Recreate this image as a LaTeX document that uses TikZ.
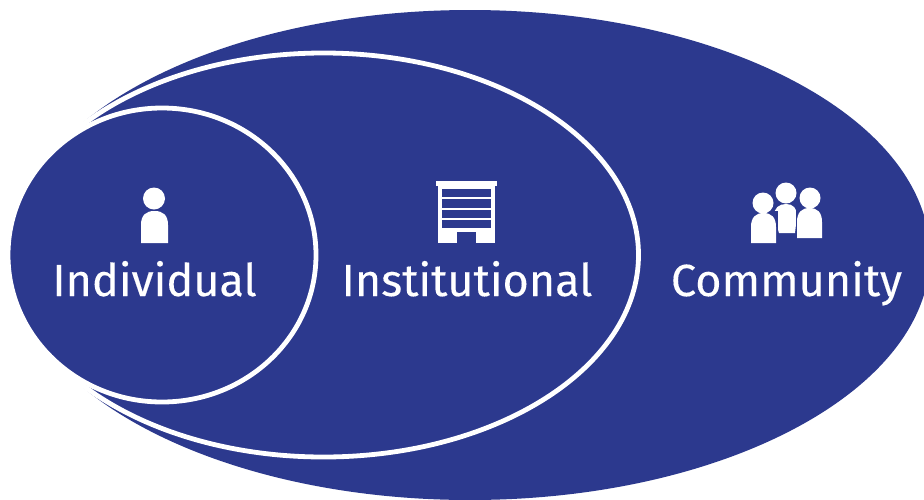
\documentclass[tikz,border=0pt]{standalone}
\usepackage{fontspec}
\setmainfont[FakeBold=0.2]{Fira Sans}
\definecolor{navy}{RGB}{44,57,142}
\tikzset{
  zone/.style={fill=navy,draw=white,line width=4.8pt},
  lab/.style={text=white,font=\fontsize{45}{45}\selectfont,inner sep=0pt,anchor=base},
  ico/.style={fill=white,draw=none},
  gap/.style={fill=navy,draw=none}
}
\newcommand{\bodyshape}[4]{% left, right, top, bottom
  \fill[ico] (#1,#4) -- (#1,{#3+14}) .. controls (#1,{#3+4}) and ({#1+5},#3) .. ({(#1+#2)/2},#3) .. controls ({#2-5},#3) and (#2,{#3+4}) .. (#2,{#3+14}) -- (#2,#4) -- cycle;}
\begin{document}
\begin{tikzpicture}[x=1pt,y=-1pt]
\useasboundingbox (0,0) rectangle (924,499);
\clip (0,0) rectangle (924,499);
\fill[white] (0,0) rectangle (924,499);
% nested ellipses
\fill[navy] (470,255) ellipse [x radius=460,y radius=245];
\draw[zone] (323.5,255) ellipse [x radius=315,y radius=202];
\draw[zone] (162,255) ellipse [x radius=154,y radius=147];
% labels
\node[lab] (individual) at (154.5,296) {Individual};
\node[lab] (institutional) at (467,296) {Institutional};
\node[lab] (community) at (786.5,296) {Community};
% person icon
\fill[ico] (154,198.5) circle [radius=11];
\bodyshape{141}{168}{211}{243}
% building icon
\fill[ico] (436,181) rectangle (497,186);
\fill[ico] (438,186) rectangle (495,243);
\fill[gap] (442,189) rectangle (491,197.3);
\fill[gap] (442,199.4) rectangle (491,207.7);
\fill[gap] (442,209.7) rectangle (491,218);
\fill[gap] (442,220) rectangle (491,228);
\fill[gap] (457,232) rectangle (476,243.5);
% community icon
\fill[ico] (786,193) circle [radius=10.5];
\fill[ico] (774,216) .. controls (774,208) and (779,204) .. (786,204) .. controls (793,204) and (797,208) .. (797,216) -- (795,233) -- (779,233) -- cycle;
\fill[gap] (748,211) rectangle (777.5,245);
\fill[gap] (795.5,206) rectangle (825,240);
\fill[ico] (763,203) circle [radius=10.5];
\bodyshape{751}{776}{213}{243}
\fill[ico] (810,198) circle [radius=10.5];
\bodyshape{797}{822}{208}{238}
\end{tikzpicture}
\end{document}
